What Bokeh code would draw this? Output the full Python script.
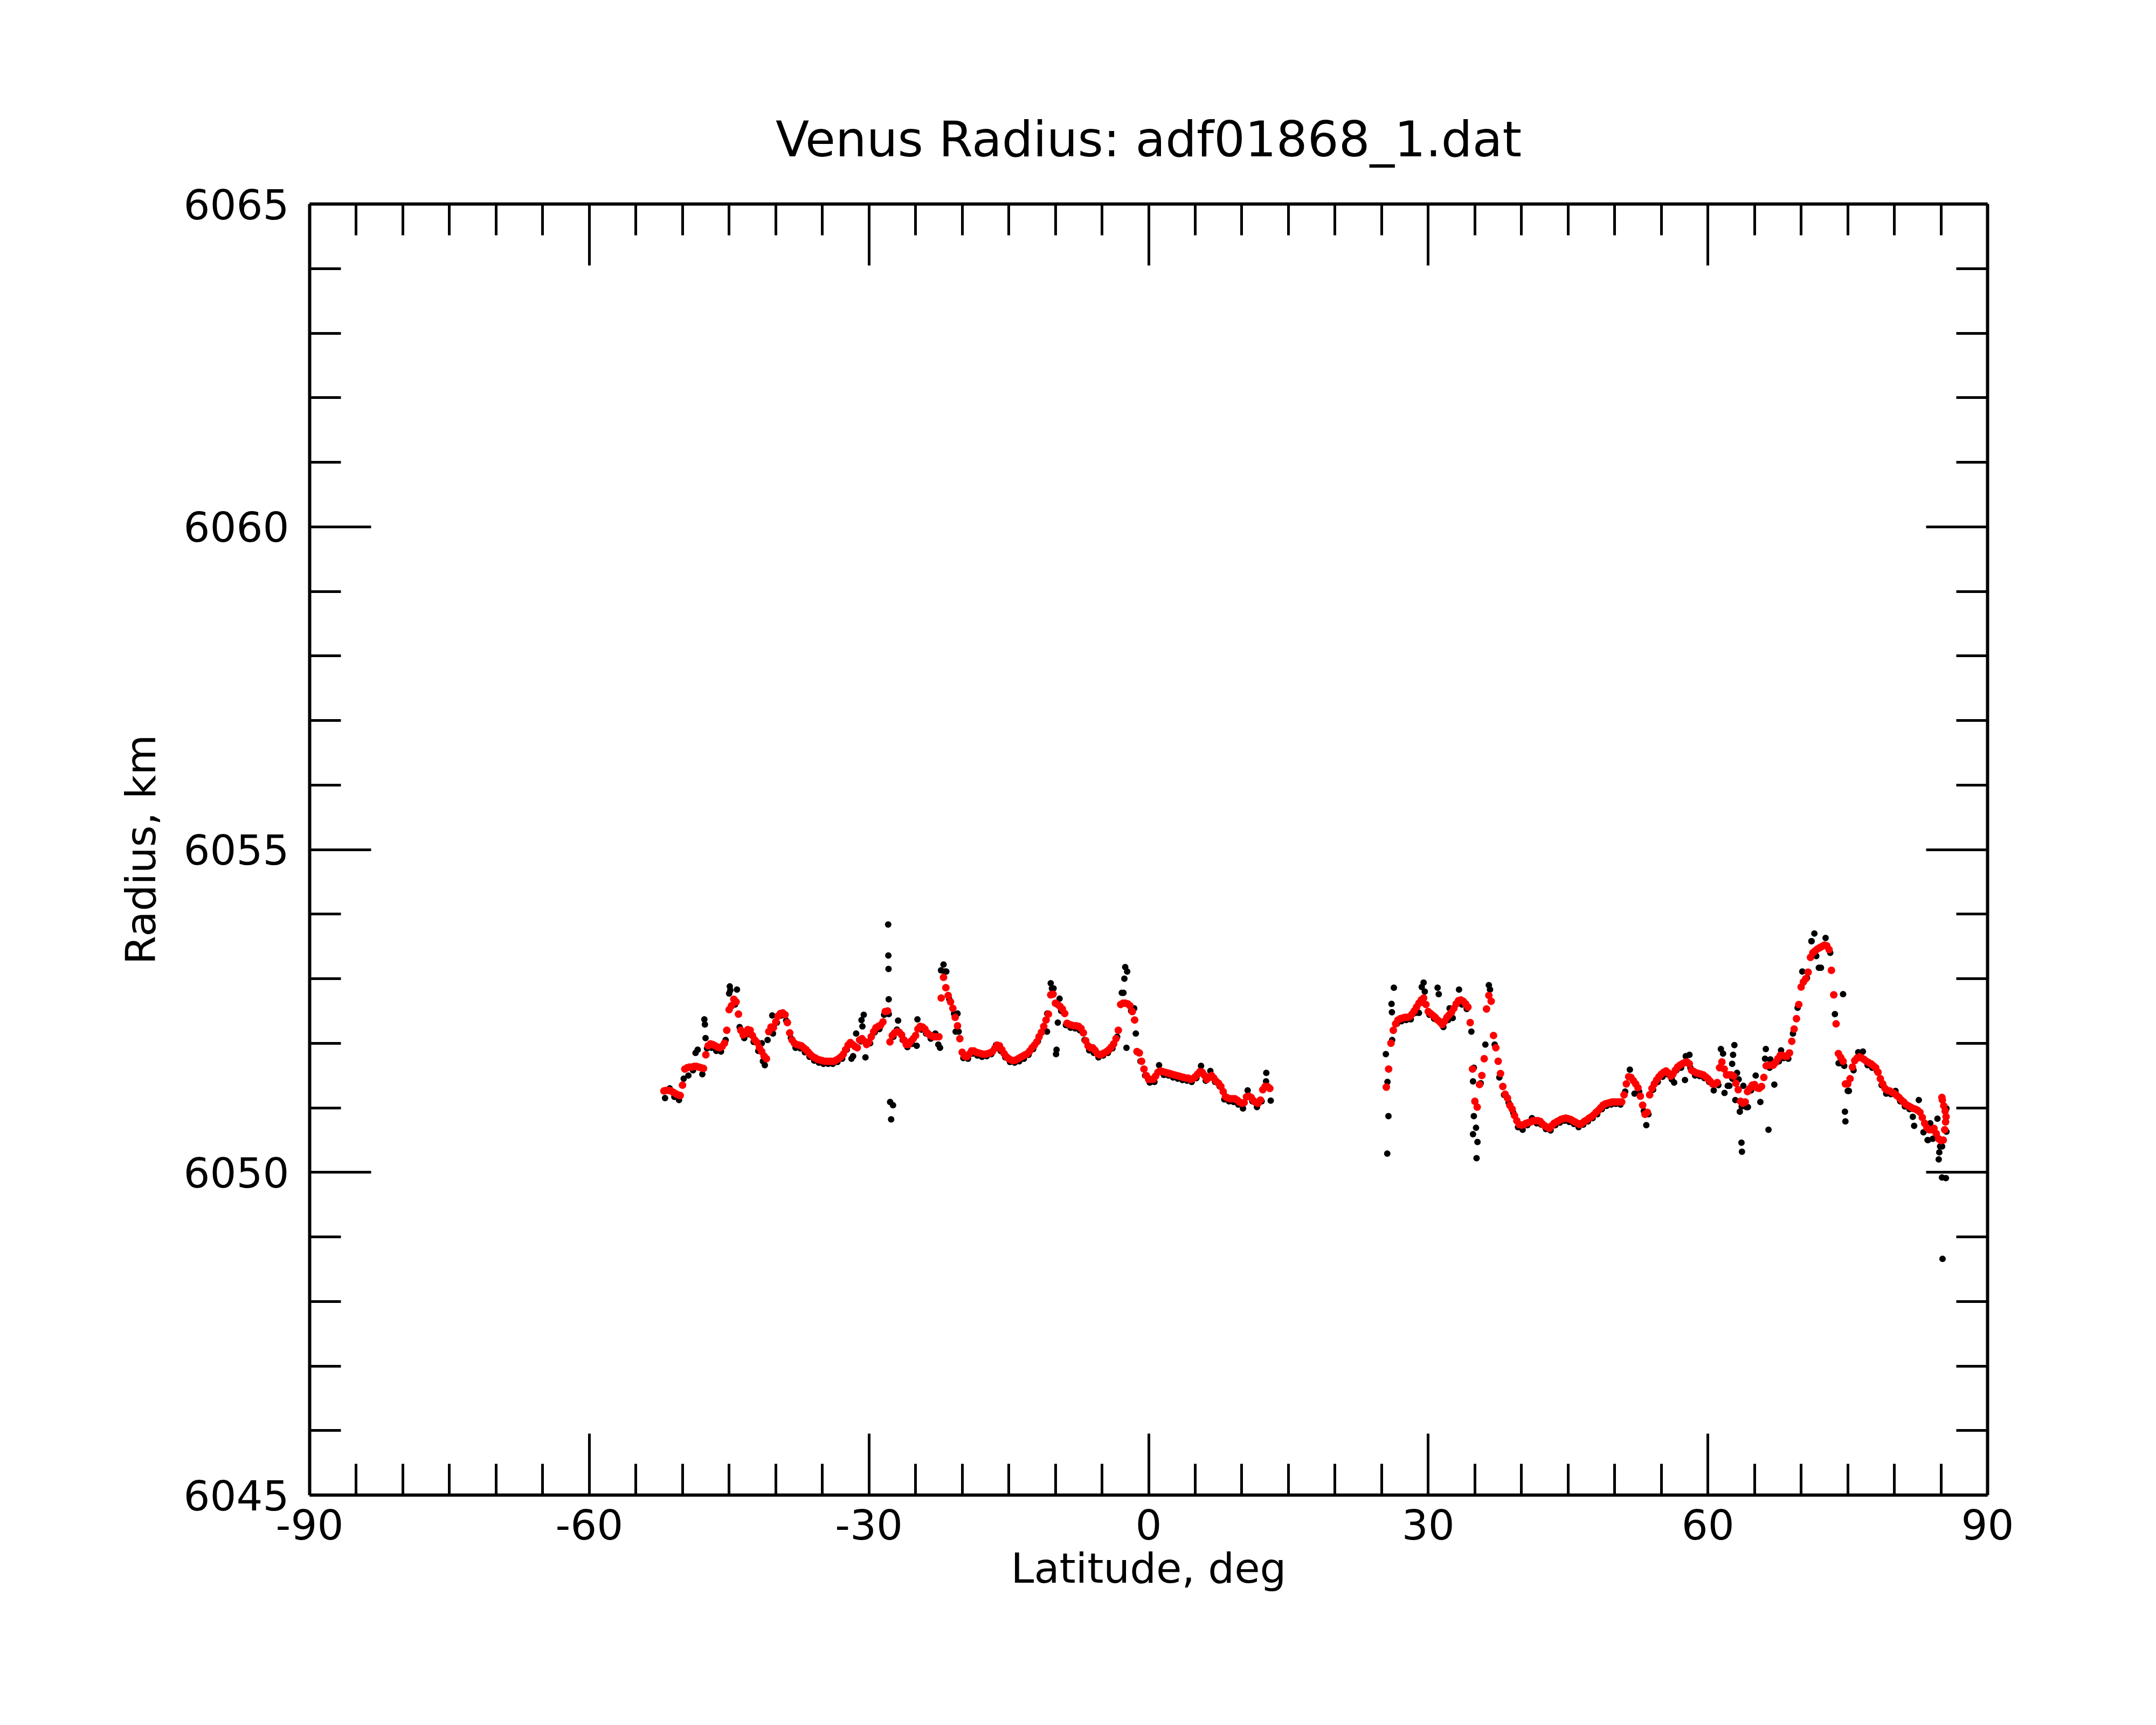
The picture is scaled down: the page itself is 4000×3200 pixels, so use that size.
import numpy as np
from bokeh.plotting import figure
from bokeh.models import LinearAxis, FixedTicker, Range1d, CustomJSTickFormatter
from bokeh.embed import file_html
from bokeh.resources import INLINE

TITLE = "Venus Radius: adf01868_1.dat"
X_LABEL = "Latitude, deg"
Y_LABEL = "Radius, km"
X_TICKS = [-90, -60, -30, 0, 30, 60, 90]
Y_TICKS = [6045, 6050, 6055, 6060, 6065]
X_MINOR = [v for v in range(-85, 90, 5) if v % 30 != 0]
Y_MINOR = [v for v in range(6046, 6065) if v % 5 != 0]

# Smoothed radius (red), southern part: latitude -52.0 .. 13.0, every 0.25 deg
red_south_start = -52.0
red_south = [
    6051.26, 6051.27, 6051.27, 6051.26,
    6051.24, 6051.22, 6051.20, 6051.19,
    6051.35, 6051.60, 6051.62, 6051.63,
    6051.63, 6051.64, 6051.64, 6051.63,
    6051.62, 6051.61, 6051.82, 6051.96,
    6051.99, 6051.98, 6051.96, 6051.94,
    6051.93, 6051.95, 6052.00, 6052.20,
    6052.52, 6052.58, 6052.68, 6052.64,
    6052.45, 6052.20, 6052.13, 6052.15,
    6052.21, 6052.20, 6052.12, 6052.05,
    6052.01, 6051.93, 6051.87, 6051.80,
    6051.76, 6052.18, 6052.25, 6052.24,
    6052.33, 6052.42, 6052.46, 6052.47,
    6052.44, 6052.32, 6052.16, 6052.05,
    6052.00, 6051.98, 6051.97, 6051.96,
    6051.93, 6051.90, 6051.86, 6051.82,
    6051.79, 6051.77, 6051.75, 6051.74,
    6051.73, 6051.72, 6051.72, 6051.72,
    6051.72, 6051.72, 6051.74, 6051.76,
    6051.79, 6051.83, 6051.90, 6051.97,
    6052.01, 6051.98, 6051.95, 6051.93,
    6052.05, 6052.07, 6052.03, 6051.98,
    6052.02, 6052.10, 6052.18, 6052.24,
    6052.26, 6052.28, 6052.33, 6052.49,
    6052.50, 6052.02, 6052.12, 6052.16,
    6052.18, 6052.17, 6052.13, 6052.05,
    6051.98, 6051.98, 6052.03, 6052.07,
    6052.12, 6052.22, 6052.26, 6052.25,
    6052.22, 6052.16, 6052.13, 6052.11,
    6052.10, 6052.10, 6052.10, 6052.70,
    6053.02, 6052.86, 6052.74, 6052.64,
    6052.54, 6052.40, 6052.27, 6052.07,
    6051.86, 6051.80, 6051.79, 6051.83,
    6051.88, 6051.88, 6051.86, 6051.85,
    6051.84, 6051.83, 6051.83, 6051.84,
    6051.85, 6051.87, 6051.92, 6051.97,
    6051.96, 6051.90, 6051.84, 6051.79,
    6051.76, 6051.74, 6051.73, 6051.74,
    6051.76, 6051.78, 6051.80, 6051.82,
    6051.84, 6051.88, 6051.93, 6051.97,
    6052.02, 6052.10, 6052.17, 6052.26,
    6052.36, 6052.45, 6052.75, 6052.76,
    6052.62, 6052.60, 6052.57, 6052.53,
    6052.46, 6052.31, 6052.29, 6052.28,
    6052.27, 6052.27, 6052.26, 6052.23,
    6052.16, 6052.04, 6051.96, 6051.93,
    6051.93, 6051.89, 6051.84, 6051.82,
    6051.83, 6051.85, 6051.87, 6051.90,
    6051.94, 6051.99, 6052.07, 6052.20,
    6052.60, 6052.62, 6052.62, 6052.61,
    6052.58, 6052.49, 6052.36, 6051.87,
    6051.85, 6051.72, 6051.60, 6051.50,
    6051.44, 6051.44, 6051.44, 6051.49,
    6051.55, 6051.57, 6051.56, 6051.55,
    6051.54, 6051.53, 6051.52, 6051.51,
    6051.50, 6051.49, 6051.48, 6051.47,
    6051.46, 6051.46, 6051.44, 6051.45,
    6051.48, 6051.52, 6051.56, 6051.55,
    6051.50, 6051.44, 6051.47, 6051.50,
    6051.46, 6051.41, 6051.38, 6051.33,
    6051.25, 6051.17, 6051.15, 6051.14,
    6051.14, 6051.14, 6051.12, 6051.09,
    6051.07, 6051.08, 6051.17, 6051.18,
    6051.16, 6051.11, 6051.08, 6051.07,
    6051.12, 6051.28, 6051.33, 6051.33,
    6051.30,
]

# Smoothed radius (red), northern part: latitude 25.5 .. 85.25, every 0.25 deg
red_north_start = 25.5
red_north = [
    6051.32, 6051.60, 6052.00, 6052.20,
    6052.30, 6052.36, 6052.38, 6052.39,
    6052.40, 6052.40, 6052.41, 6052.45,
    6052.50, 6052.56, 6052.62, 6052.67,
    6052.70, 6052.60, 6052.49, 6052.46,
    6052.43, 6052.40, 6052.36, 6052.33,
    6052.29, 6052.34, 6052.40, 6052.44,
    6052.48, 6052.54, 6052.61, 6052.66,
    6052.67, 6052.65, 6052.61, 6052.56,
    6052.32, 6051.60, 6051.10, 6051.01,
    6051.36, 6051.50, 6051.76, 6052.53,
    6052.74, 6052.65, 6052.12, 6051.93,
    6051.72, 6051.53, 6051.33, 6051.21,
    6051.15, 6051.04, 6050.98, 6050.88,
    6050.80, 6050.74, 6050.73, 6050.74,
    6050.76, 6050.77, 6050.78, 6050.80,
    6050.80, 6050.80, 6050.79, 6050.75,
    6050.72, 6050.70, 6050.68, 6050.72,
    6050.76, 6050.78, 6050.80, 6050.82,
    6050.83, 6050.84, 6050.83, 6050.82,
    6050.80, 6050.78, 6050.76, 6050.74,
    6050.76, 6050.79, 6050.81, 6050.84,
    6050.86, 6050.89, 6050.93, 6050.96,
    6051.00, 6051.04, 6051.06, 6051.07,
    6051.08, 6051.09, 6051.09, 6051.09,
    6051.09, 6051.09, 6051.20, 6051.37,
    6051.48, 6051.47, 6051.42, 6051.37,
    6051.31, 6051.18, 6051.04, 6050.90,
    6050.93, 6051.20, 6051.30, 6051.37,
    6051.43, 6051.48, 6051.52, 6051.55,
    6051.57, 6051.54, 6051.49, 6051.52,
    6051.58, 6051.63, 6051.66, 6051.68,
    6051.70, 6051.71, 6051.68, 6051.58,
    6051.56, 6051.54, 6051.53, 6051.52,
    6051.51, 6051.48, 6051.45, 6051.41,
    6051.37, 6051.37, 6051.39, 6051.62,
    6051.71, 6051.60, 6051.51, 6051.51,
    6051.51, 6051.49, 6051.38, 6051.28,
    6051.10, 6051.07, 6051.09, 6051.25,
    6051.30, 6051.35, 6051.36, 6051.31,
    6051.30, 6051.33, 6051.47, 6051.65,
    6051.66, 6051.66, 6051.66, 6051.70,
    6051.76, 6051.81, 6051.81, 6051.80,
    6051.80, 6051.85, 6052.03, 6052.22,
    6052.38, 6052.60, 6052.87, 6052.95,
    6053.00, 6053.10, 6053.33, 6053.40,
    6053.43, 6053.46, 6053.48, 6053.50,
    6053.52, 6053.51, 6053.45, 6053.13,
    6052.75, 6052.30, 6051.84, 6051.78,
    6051.72, 6051.37, 6051.37, 6051.45,
    6051.63, 6051.73, 6051.77, 6051.79,
    6051.77, 6051.75, 6051.72, 6051.70,
    6051.68, 6051.65, 6051.62, 6051.55,
    6051.45, 6051.37, 6051.30, 6051.27,
    6051.26, 6051.24, 6051.22, 6051.19,
    6051.16, 6051.12, 6051.09, 6051.05,
    6051.03, 6051.01, 6050.99, 6050.98,
    6050.96, 6050.93, 6050.85, 6050.76,
    6050.69, 6050.66, 6050.66, 6050.68,
    6050.60, 6050.52, 6050.49, 6050.50,
]

# Smoothed radius (red), last points near the pole where the track turns back
red_tail_lat = [85.40, 85.50, 85.55, 85.45, 85.30, 85.15, 85.10]
red_tail_r = [6050.66, 6050.78, 6050.86, 6050.95, 6051.03, 6051.12, 6051.16]

# Measured radius (black), southern part: latitude -51.875 .. 12.625, every 0.5 deg
black_south_start = -51.875
black_south = [
    6051.15, 6051.30, 6051.17, 6051.12,
    6051.45, 6051.50, 6051.58, 6051.90,
    6051.52, 6051.92, 6051.93, 6051.88,
    6051.87, 6052.05, 6052.82, 6052.60,
    6052.25, 6052.08, 6052.14, 6052.02,
    6051.88, 6051.72, 6052.05, 6052.43,
    6052.32, 6052.43, 6052.35, 6052.08,
    6051.93, 6051.92, 6051.86, 6051.79,
    6051.73, 6051.70, 6051.68, 6051.68,
    6051.68, 6051.71, 6051.76, 6051.90,
    6051.76, 6052.15, 6052.03, 6051.78,
    6052.00, 6052.17, 6052.22, 6052.44,
    6052.45, 6052.10, 6052.35, 6052.05,
    6051.94, 6051.99, 6051.96, 6052.21,
    6052.15, 6052.07, 6052.15, 6051.93,
    6053.11, 6052.68, 6052.46, 6052.18,
    6051.77, 6051.76, 6051.84, 6051.81,
    6051.79, 6051.80, 6051.83, 6051.97,
    6051.88, 6051.78, 6051.71, 6051.70,
    6051.72, 6051.76, 6051.82, 6051.91,
    6052.03, 6052.18, 6052.46, 6052.85,
    6051.90, 6052.50, 6052.28, 6052.24,
    6052.23, 6052.20, 6052.05, 6051.89,
    6051.85, 6051.78, 6051.81, 6051.85,
    6051.92, 6052.10, 6052.78, 6051.93,
    6052.50, 6052.15, 6051.72, 6051.50,
    6051.39, 6051.40, 6051.66, 6051.51,
    6051.50, 6051.47, 6051.45, 6051.43,
    6051.42, 6051.40, 6051.46, 6051.65,
    6051.42, 6051.57, 6051.40, 6051.33,
    6051.13, 6051.10, 6051.09, 6051.05,
    6050.99, 6051.27, 6051.10, 6051.01,
    6051.10, 6051.54,
]

# Measured radius (black), northern part: latitude 25.625 .. 85.125, every 0.5 deg
black_north_start = 25.625
black_north = [
    6051.40, 6052.05, 6052.30, 6052.34,
    6052.36, 6052.37, 6052.47, 6052.62,
    6052.80, 6052.44, 6052.38, 6052.76,
    6052.25, 6052.36, 6052.39, 6052.62,
    6052.60, 6052.53, 6052.18, 6050.69,
    6051.38, 6051.98, 6052.83, 6051.98,
    6051.47, 6051.20, 6051.08, 6050.92,
    6050.70, 6050.66, 6050.73, 6050.84,
    6050.76, 6050.74, 6050.67, 6050.65,
    6050.73, 6050.77, 6050.80, 6050.78,
    6050.75, 6050.70, 6050.74, 6050.79,
    6050.84, 6050.90, 6050.98, 6051.03,
    6051.05, 6051.06, 6051.05, 6051.25,
    6051.59, 6051.22, 6051.25, 6050.95,
    6050.90, 6051.28, 6051.40, 6051.48,
    6051.52, 6051.44, 6051.58, 6051.62,
    6051.80, 6051.62, 6051.50, 6051.49,
    6051.46, 6051.40, 6051.27, 6051.35,
    6051.84, 6051.34, 6051.45, 6051.54,
    6051.02, 6051.01, 6051.27, 6051.50,
    6051.09, 6051.76, 6051.62, 6051.36,
    6051.72, 6051.77, 6051.76, 6052.15,
    6052.55, 6053.11, 6053.01, 6053.58,
    6053.35, 6053.17, 6053.63, 6053.40,
    6052.45, 6051.69, 6051.65, 6051.26,
    6051.58, 6051.86, 6051.87, 6051.66,
    6051.62, 6051.57, 6051.35, 6051.22,
    6051.21, 6051.26, 6051.10, 6051.02,
    6050.98, 6050.72, 6051.12, 6050.62,
    6050.50, 6050.52, 6050.83, 6050.40,
]

# Measured radius (black), scattered points away from the smooth profile
black_extra_lat = [
    -27.94, -27.92, -27.90, -27.88, -27.73, -27.42, -27.62,
    -44.93, -44.16, -45.00, -47.66, -47.60, -47.53, -48.60,
    -41.17, -40.30, -41.50, -30.56, -30.80, -30.70, -31.70, -27.00,
    -22.00, -22.27, -21.70, -20.50, -20.70, -24.80, -22.56,
    -10.50, -10.20, -9.55, -9.74, -9.93, -10.90,
    -2.51, -2.30, -2.60, -2.70, -1.55, 12.60, 13.10,
    25.60, 25.73, 25.45, 26.31, 26.06, 26.10,
    29.50, 29.30, 31.00, 33.30, 36.50,
    34.89, 34.80, 34.89, 34.80, 35.28, 35.18, 29.00, 32.29,
    53.39, 56.38, 57.54, 58.02,
    61.39, 62.84, 62.70, 62.60, 63.30, 62.94, 63.42, 61.78, 62.30, 63.80, 64.29,
    63.60, 63.65, 66.50, 66.21, 66.70, 67.85,
    71.42, 71.10, 71.90,
    74.50, 75.00, 74.70, 74.75, 74.02,
    81.98, 83.85, 84.91, 84.82, 84.76, 85.11, 85.53, 85.17, 85.59, 85.59, 83.56,
]
black_extra_r = [
    6053.84, 6053.36, 6053.15, 6052.68, 6051.09, 6051.04, 6050.82,
    6052.88, 6052.83, 6052.77, 6052.37, 6052.29, 6052.08, 6051.85,
    6051.66, 6052.15, 6052.00, 6052.44, 6052.36, 6052.26, 6051.80, 6052.21,
    6053.22, 6053.13, 6053.11, 6052.46, 6052.18, 6052.37, 6051.98,
    6052.93, 6052.85, 6052.69, 6052.32, 6051.83, 6052.18,
    6053.18, 6053.11, 6053.00, 6052.78, 6052.54, 6051.41, 6051.11,
    6050.29, 6050.87, 6051.83, 6052.86, 6052.61, 6052.48,
    6052.94, 6052.87, 6052.86, 6052.83, 6052.90,
    6051.62, 6051.41, 6050.87, 6050.59, 6050.47, 6050.22, 6052.47, 6052.54,
    6050.73, 6051.39, 6051.43, 6051.82,
    6051.91, 6051.97, 6051.82, 6051.68, 6051.44, 6051.12, 6050.94, 6051.23, 6051.34, 6051.34, 6051.01,
    6050.46, 6050.32, 6050.66, 6051.91, 6051.75, 6051.89,
    6053.70, 6053.58, 6053.17,
    6052.76, 6051.26, 6050.94, 6050.79, 6051.69,
    6050.86, 6050.76, 6050.40, 6050.31, 6050.20, 6049.92, 6049.91, 6048.66, 6050.99, 6050.63, 6050.50,
]

red_lat = np.concatenate([
    red_south_start + 0.25 * np.arange(len(red_south)),
    red_north_start + 0.25 * np.arange(len(red_north)),
    np.array(red_tail_lat),
])
red_r = np.concatenate([red_south, red_north, red_tail_r])

black_lat = np.concatenate([
    black_south_start + 0.5 * np.arange(len(black_south)),
    black_north_start + 0.5 * np.arange(len(black_north)),
    np.array(black_extra_lat),
])
black_r = np.concatenate([black_south, black_north, black_extra_r])

FONT = "DejaVu Sans"
TICK_PX = "77px"

p = figure(
    frame_width=3113, frame_height=2395,
    min_border_left=574, min_border_right=297,
    min_border_top=378, min_border_bottom=411,
    x_range=Range1d(-90, 90), y_range=Range1d(6045, 6065),
    output_backend="svg", toolbar_location=None,
    title=TITLE,
)
p.background_fill_color = "white"
p.border_fill_color = "white"
p.outline_line_color = None
p.xgrid.visible = False
p.ygrid.visible = False

p.title.align = "center"
p.title.text_font = FONT
p.title.text_font_size = "91px"
p.title.text_font_style = "normal"
p.title.text_color = "black"
p.title.standoff = 136

xt = FixedTicker(ticks=X_TICKS, minor_ticks=X_MINOR)
yt = FixedTicker(ticks=Y_TICKS, minor_ticks=Y_MINOR)
plain_fmt = CustomJSTickFormatter(code="return tick.toString();")
blank_fmt = CustomJSTickFormatter(code="return '';")


def style_axis(ax, labels):
    ax.axis_line_width = 6
    ax.axis_line_color = "black"
    ax.major_tick_line_width = 5
    ax.minor_tick_line_width = 5
    ax.major_tick_line_color = "black"
    ax.minor_tick_line_color = "black"
    ax.major_tick_out = 0
    ax.minor_tick_out = 0
    ax.major_tick_in = 114
    ax.minor_tick_in = 58
    if labels:
        ax.formatter = plain_fmt
        ax.major_label_text_font = FONT
        ax.major_label_text_font_size = TICK_PX
        ax.major_label_text_color = "black"
        ax.axis_label_text_font = FONT
        ax.axis_label_text_font_size = TICK_PX
        ax.axis_label_text_font_style = "normal"
        ax.axis_label_text_color = "black"
    else:
        ax.formatter = blank_fmt
        ax.major_label_standoff = 0


p.xaxis.ticker = xt
p.yaxis.ticker = yt
p.xaxis.axis_label = X_LABEL
p.yaxis.axis_label = Y_LABEL
style_axis(p.xaxis[0], True)
style_axis(p.yaxis[0], True)
p.xaxis.major_label_standoff = 26
p.xaxis.axis_label_standoff = 6
p.yaxis.major_label_standoff = 38
p.yaxis.axis_label_standoff = 32
p.yaxis.major_label_orientation = "horizontal"

top = LinearAxis(ticker=xt)
right = LinearAxis(ticker=yt)
style_axis(top, False)
style_axis(right, False)
p.add_layout(top, "above")
p.add_layout(right, "right")

p.scatter(black_lat, black_r, size=12, color="black", line_color=None)
p.scatter(red_lat, red_r, size=14, color="red", line_color=None)

open("out.html", "w").write(file_html(p, INLINE))
